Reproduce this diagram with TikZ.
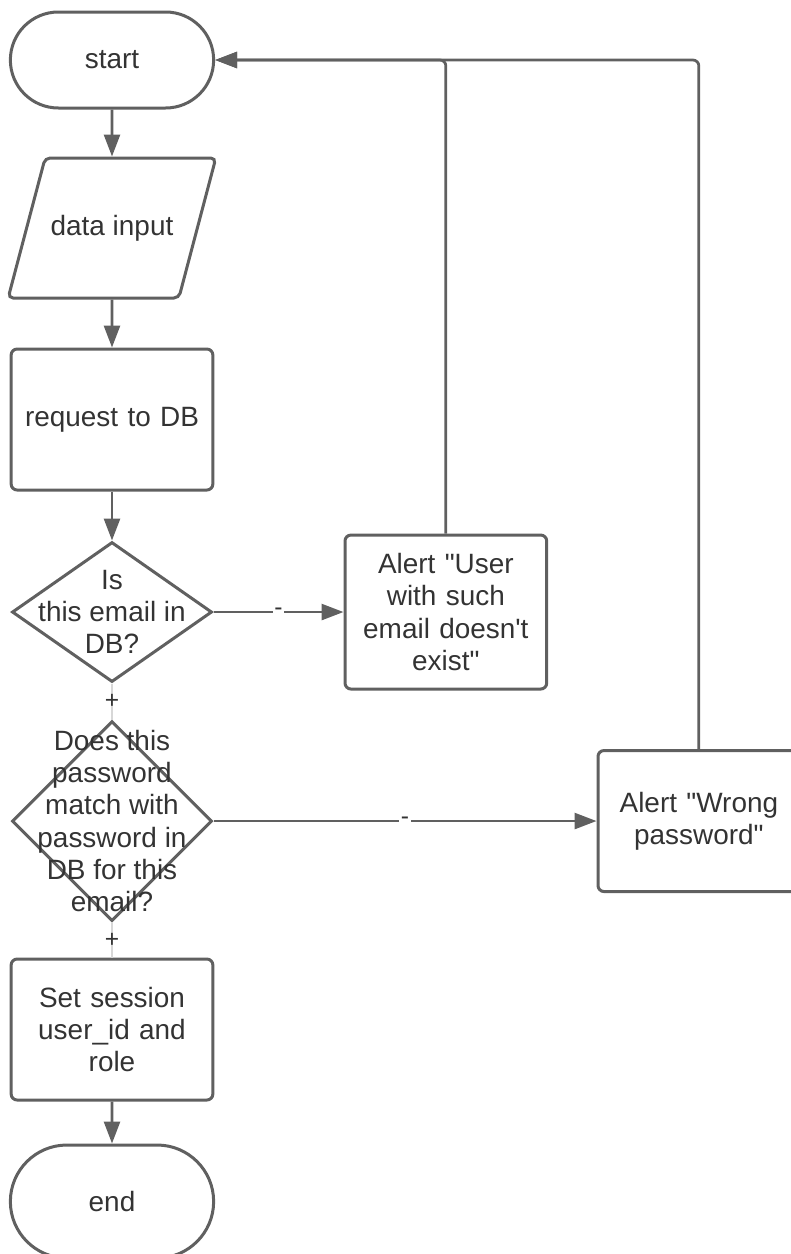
\documentclass[tikz,border=0pt]{standalone}
\usepackage{fontspec}
\newfontfamily\chartfont{Liberation Sans}
\usepackage{tikz}
\usetikzlibrary{arrows.meta,shapes,positioning}
\definecolor{fcline}{RGB}{96,96,96}
\definecolor{fctext}{RGB}{51,51,51}
\tikzstyle{terminal} = [rounded rectangle, minimum width=4.3cm, minimum height=1.92cm, draw=fcline, line width=0.06cm, text=fctext]
\tikzstyle{inout} = [trapezium, trapezium left angle=75, trapezium right angle=105, trapezium stretches body=true, inner xsep=0.11cm, inner ysep=1.12cm, minimum width=3.8cm, minimum height=2.8cm, draw=fcline, line width=0.06cm, rounded corners=0.1cm, text=fctext]
\tikzstyle{process} = [rectangle, minimum width=4.02cm, minimum height=2.82cm, text width=3.8cm, align=center, draw=fcline, line width=0.06cm, rounded corners=0.12cm, text=fctext]
\tikzstyle{decision} = [diamond, minimum width=4cm, minimum height=2.8cm, inner sep=0pt, draw=fcline, line width=0.06cm]
\tikzstyle{arrow} = [line width=0.055cm, color=fcline, -{Triangle[length=0.44cm,width=0.32cm]}]
\tikzstyle{faint} = [line width=0.05cm, color=fcline!25]
\tikzstyle{sign} = [font=\chartfont\fontsize{14}{15}\selectfont, text=fctext, inner sep=1pt]

\begin{document}
\begin{tikzpicture}[every node/.style={font=\chartfont\fontsize{15.9}{18.4}\selectfont}]
\useasboundingbox (0,0) rectangle (15.82,-25.08);

% Main column
\node[terminal] (start) at (2.24,-1.2) {start};
\node[inout, below=0.94cm of start] (input) {data input};
\node[process, below=0.96cm of input] (request) {request to DB};
\node[decision, below=0.98cm of request,
  label={[align=center, text=fctext]center:Is\\this email in\\DB?}] (checkEmail) {};
\node[decision, minimum height=4cm, below=0.72cm of checkEmail,
  label={[align=center, text=fctext]center:Does this\\password\\match with\\password in\\DB for this\\email?}] (checkPass) {};
\node[process, below=0.7cm of checkPass] (session) {Set session\\user\_id and\\role};
\node[terminal, minimum height=2.26cm, below=0.84cm of session] (stop) {end};

% Alerts
\node[process, minimum height=3.08cm, right=2.6cm of checkEmail] (noUser) {Alert "User\\with such\\email doesn't\\exist"};
\node[process, right=7.66cm of checkPass] (badPass) {Alert "Wrong\\password"};

% Connectors
\draw[arrow] (start) -- (input);
\draw[arrow] (input) -- (request);
\draw[arrow] (request) -- (checkEmail);
\draw[faint] (checkEmail.south) -- node[sign] {+} (checkPass.north);
\draw[faint] (checkPass.south) -- node[sign] {+} (session.north);
\draw[arrow] (session) -- (stop);
\draw[arrow] (checkEmail.east) -- node[sign, fill=white] {-} (noUser.west);
\draw[arrow] (checkPass.east) -- node[sign, fill=white] {-} (badPass.west);

% Back to start
\draw[arrow, rounded corners=0.12cm] (noUser.north) |- (start.east);
\draw[arrow, rounded corners=0.12cm] (badPass.north) |- (start.east);
\end{tikzpicture}
\end{document}
